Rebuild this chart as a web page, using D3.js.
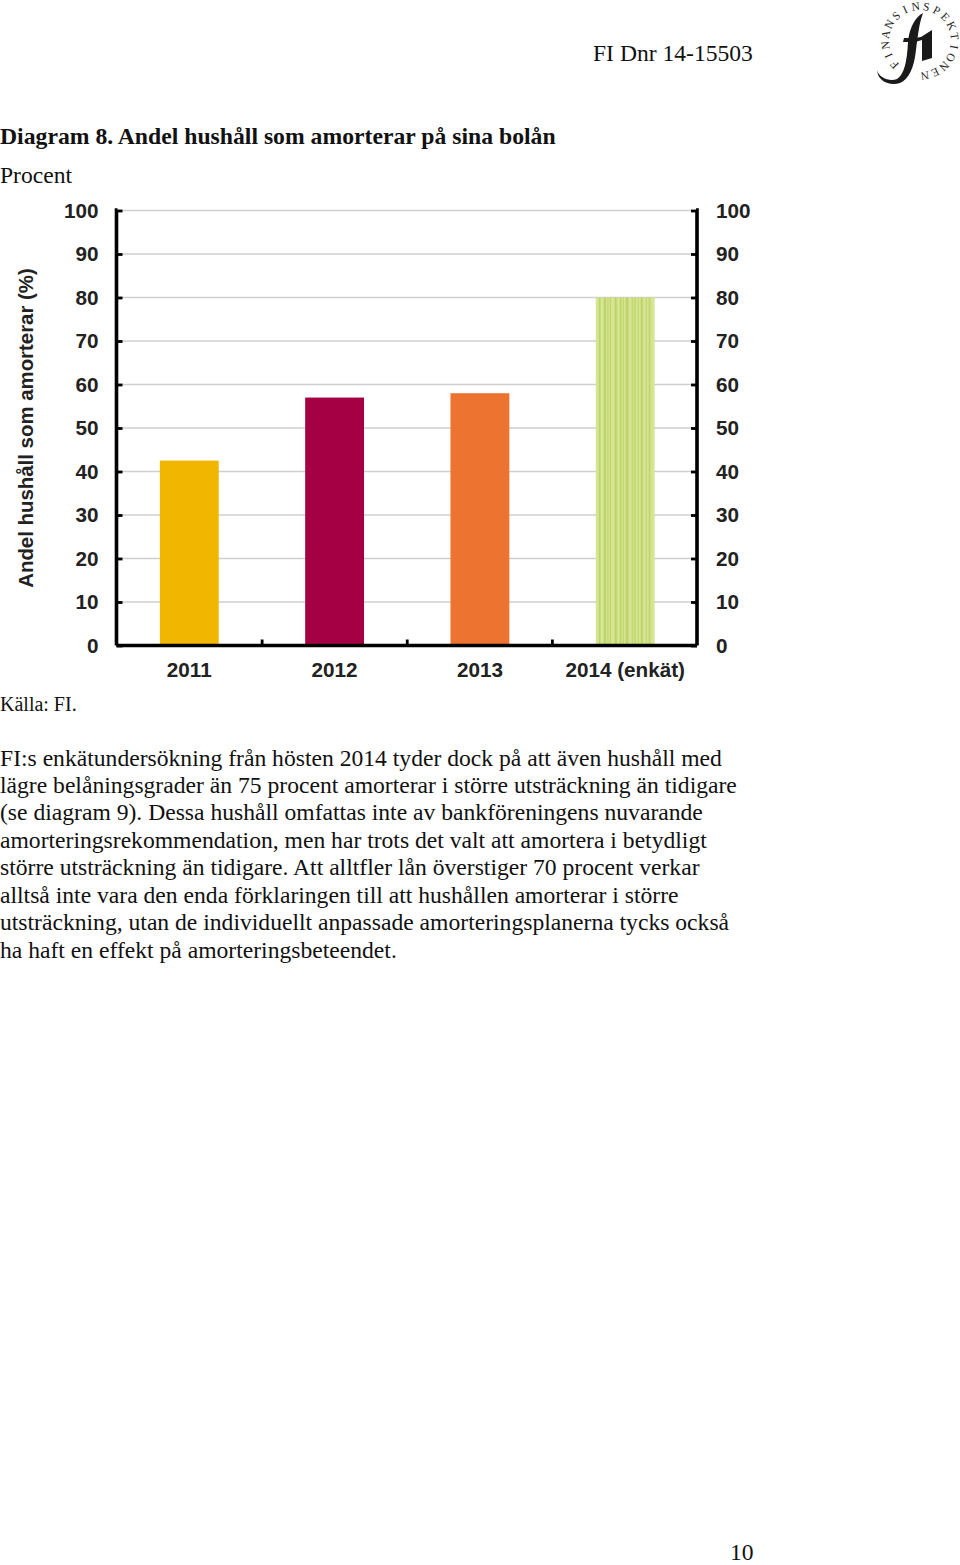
<!DOCTYPE html>
<html><head><meta charset="utf-8">
<script src="https://cdn.jsdelivr.net/npm/d3@7"></script>
<style>html,body{margin:0;background:#fff}svg{display:block}</style></head>
<body><svg id="c" width="960" height="1565"></svg>
<script>
const categories=["2011","2012","2013","2014 (enkät)"];
const values=[42.5,57,58,80];
const colors=["#f1b600","#a50044","#ed7430","#c9dc7c"];
const yTicks=[0,10,20,30,40,50,60,70,80,90,100];
const logoLetters="FINANSINSPEKTIONEN".split("");
const bodyLines=["FI:s enkätundersökning från hösten 2014 tyder dock på att även hushåll med",
"lägre belåningsgrader än 75 procent amorterar i större utsträckning än tidigare",
"(se diagram 9). Dessa hushåll omfattas inte av bankföreningens nuvarande",
"amorteringsrekommendation, men har trots det valt att amortera i betydligt",
"större utsträckning än tidigare. Att alltfler lån överstiger 70 procent verkar",
"alltså inte vara den enda förklaringen till att hushållen amorterar i större",
"utsträckning, utan de individuellt anpassade amorteringsplanerna tycks också",
"ha haft en effekt på amorteringsbeteendet."];
const serif="'Liberation Serif',serif", sans="'Liberation Sans',sans-serif";
const svg=d3.select("#c");
const T=(x,y,s,size,o={})=>svg.append("text").attr("x",x).attr("y",y).text(s)
  .attr("font-family",o.f||serif).attr("font-size",size).attr("font-weight",o.w||"normal")
  .attr("fill",o.c||"#111").attr("text-anchor",o.a||"start");

T(593,60.5,"FI Dnr 14-15503",23.6);
T(0,143.5,"Diagram 8. Andel hushåll som amorterar på sina bolån",23.7,{w:"bold"});
T(0,183,"Procent",23.6);
T(0,711,"Källa: FI.",20);
bodyLines.forEach((l,i)=>T(0,765.5+i*27.45,l,23.62));
T(730,1560,"10",23.6);

// logo
const defs=svg.append("defs");
const ang=d3.scalePoint().domain(d3.range(logoLetters.length)).range([-133,172]);
svg.append("g").selectAll("text").data(logoLetters).join("text")
 .attr("transform",(d,i)=>`translate(920,41) rotate(${ang(i)}) translate(0,-31)`)
 .attr("text-anchor","middle").attr("font-family",serif).attr("font-size",11.5).attr("fill","#222").text(d=>d);
svg.append("path").attr("fill","#1a1a1a").attr("d","M877 70 C879 78 890 82 897 79 C904 75 907 62 908 42 L903 42 L904 38 L908.5 38 C910 28 915 17 923 13 C919 24 918 35 916 50 C914 68 909 79 900 83 C890 86 878 82 877 70 Z");
svg.append("path").attr("fill","#1a1a1a").attr("d","M915 38 L921 37 L932 30 L932 58 L922 61 L922 40 L915 42 Z");

// chart
const L=116.5,R=697,Y0=645.5,Y1=210.5;
const x=d3.scaleBand().domain(categories).range([L+0.5,R+0.5]).paddingInner(0.595).paddingOuter(0.295);
const y=d3.scaleLinear().domain([0,100]).range([Y0,Y1]);
const grid=svg.append("g");
grid.selectAll("line").data(yTicks.slice(1)).join("line")
 .attr("x1",L).attr("x2",R).attr("y1",d=>y(d)).attr("y2",d=>y(d)).attr("stroke","#cfcfcf").attr("stroke-width",1.3);

const pat=defs.append("pattern").attr("id","st").attr("patternUnits","userSpaceOnUse")
 .attr("x",x(categories[3])).attr("y",0).attr("width",x.bandwidth()).attr("height",10);
pat.append("rect").attr("width",x.bandwidth()).attr("height",10).attr("fill","#d6e592");
[[3,1.5],[8,2],[11.5,1],[14,1],[19,2],[24,1.5],[27,1],[30,2.5],[36,1],[38.5,1.5],[42,1],[45,2],[50,1],[53,1.5]].forEach(([a,w])=>
 pat.append("rect").attr("x",a).attr("width",w).attr("height",10).attr("fill","#bbd265"));
svg.append("g").selectAll("rect").data(values).join("rect")
 .attr("x",(d,i)=>x(categories[i])).attr("width",x.bandwidth())
 .attr("y",d=>y(d)).attr("height",d=>Y0-y(d))
 .attr("fill",(d,i)=>i===3?"url(#st)":colors[i]);

const axL=svg.append("g").attr("transform",`translate(${L},0)`)
 .call(d3.axisRight(y).tickValues(yTicks).tickSize(6).tickFormat(""));
const axR=svg.append("g").attr("transform",`translate(${R},0)`)
 .call(d3.axisLeft(y).tickValues(yTicks).tickSize(6).tickFormat(""));
const axB=svg.append("g").attr("transform",`translate(0,${Y0})`)
 .call(d3.axisTop(d3.scaleLinear().domain([0,4]).range([L,R])).tickValues([1,2,3]).tickSize(6).tickFormat(""));
[axL,axR,axB].forEach(a=>{a.selectAll("path").attr("stroke","#000").attr("stroke-width",3.6);
 a.selectAll("line").attr("stroke","#000").attr("stroke-width",2.8);});
axL.select("path").attr("d",`M1,${Y1-0.5}H0V${Y0}`);
axR.select("path").attr("d",`M-1,${Y1-0.5}H0V${Y0}`);
axB.select("path").attr("d",`M${L},0H${R}`);

const lab={f:sans,w:"bold",c:"#222"};
yTicks.forEach(t=>{
 T(98.5,y(t)+7,t,20.7,{...lab,a:"end"});
 T(716,y(t)+7,t,20.7,lab);
});
categories.forEach(c=>T(x(c)+x.bandwidth()/2,677,c,20.7,{...lab,a:"middle"}));
svg.append("text").attr("transform","translate(33,428) rotate(-90)").attr("text-anchor","middle")
 .attr("font-family",sans).attr("font-weight","bold").attr("font-size",20.4).attr("fill","#222")
 .text("Andel hushåll som amorterar (%)");
</script></body></html>
